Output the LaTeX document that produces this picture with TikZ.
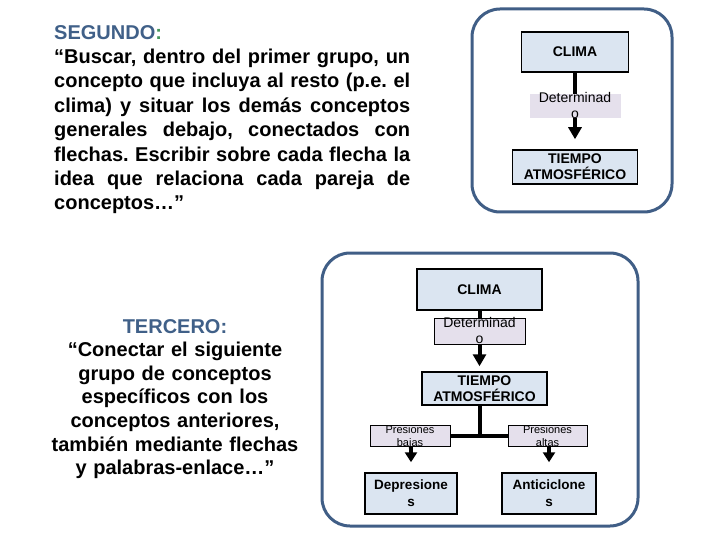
\documentclass[tikz,border=0pt]{standalone}
\usepackage{fontspec}
\setmainfont{Liberation Sans}
\usetikzlibrary{arrows.meta}
\definecolor{framecol}{RGB}{64,94,134}
\definecolor{boxfill}{RGB}{219,229,241}
\definecolor{lblfill}{RGB}{229,224,236}
\definecolor{titlecol}{RGB}{64,96,136}
\definecolor{colongreen}{RGB}{70,150,90}
\newcommand{\twoline}[2]{\smash{\raisebox{-5pt}{\begin{tabular}{@{}c@{}}#1\\#2\end{tabular}}}}
\frenchspacing

\begin{document}
\begin{tikzpicture}[x=1pt,y=-1pt,
frame/.style={draw=framecol,line width=3pt,rounded corners=28pt},
concept/.style={draw,line width=1.5pt,fill=boxfill,align=center,inner sep=0pt,font=\fontsize{14}{16}\selectfont\bfseries},
link/.style={fill=lblfill,inner sep=0pt,font=\fontsize{14}{16}\selectfont},
smalllink/.style={link,draw,line width=1pt,font=\fontsize{11}{13}\selectfont},
conn/.style={line width=4pt},
arr/.style={conn,-{Triangle[width=13pt,length=12pt]}},
longtext/.style={inner sep=0pt,font=\fontsize{20}{24.4}\selectfont\bfseries}]
\useasboundingbox (0,0) rectangle (720,540);

% instrucciones
\node[longtext,anchor=north west,text width=356pt,align=justify] (segundo) at (54,25) {{\color{titlecol}SEGUNDO\color{colongreen}:}\par
“Buscar, dentro del primer grupo, un\linebreak
concepto que incluya al resto (p.e. el\linebreak
clima) y situar los demás conceptos\linebreak
generales debajo, conectados con\linebreak
flechas. Escribir sobre cada flecha la\linebreak
idea que relaciona cada pareja de\linebreak
conceptos…”};
\node[longtext,anchor=north,text width=300pt,align=center,font=\fontsize{20}{23.6}\selectfont\bfseries] (tercero) at (175,319) {{\color{titlecol}TERCERO:}\\“Conectar el siguiente\\grupo de conceptos\\específicos con los\\conceptos anteriores,\\también mediante flechas\\y palabras-enlace…”};

% mapa general
\node[frame,minimum width=200pt,minimum height=203pt] (frameA) at (572,110.5) {};
\node[concept,minimum width=107pt,minimum height=40pt] (climaA) at (575,52) {CLIMA};
\node[concept,minimum width=125pt,minimum height=34pt] (tiempoA) at (575,167) {TIEMPO\\ATMOSFÉRICO};
\draw[arr,shorten >=10pt] (climaA) -- (tiempoA);
\node[link,minimum width=91pt,minimum height=24pt] (detA) at (575,106) {\twoline{Determinad}{o}};

% mapa especifico
\node[frame,minimum width=316pt,minimum height=273pt] (frameB) at (480,389.5) {};
\node[concept,minimum width=125pt,minimum height=41pt] (climaB) at (479.5,289.5) {CLIMA};
\node[concept,minimum width=125pt,minimum height=33pt] (tiempoB) at (484.5,388.5) {TIEMPO\\ATMOSFÉRICO};
\draw[arr,shorten >=5pt] (climaB) -- (climaB.south |- tiempoB.north);
\node[link,draw,line width=1pt,minimum width=91pt,minimum height=26pt] (detB) at (479.5,331) {\twoline{Determinad}{o}};
\node[smalllink,minimum width=80pt,minimum height=21pt] (bajas) at (410,435.5) {\twoline{Presiones}{bajas}};
\node[smalllink,minimum width=79pt,minimum height=21pt] (altas) at (547.5,435.5) {\twoline{Presiones}{altas}};
\node[concept,minimum width=92pt,minimum height=41pt,font=\fontsize{13.5}{17}\selectfont\bfseries] (depres) at (411,493.5) {Depresione\\s};
\node[concept,minimum width=94pt,minimum height=41pt,font=\fontsize{13.5}{17}\selectfont\bfseries] (antic) at (549,493.5) {Anticiclone\\s};
\draw[conn] (climaB.south |- tiempoB.south) -- (climaB.south |- bajas.east);
\draw[conn] (bajas.east) -- (altas.west);
\draw[arr,-{Triangle[width=12pt,length=10pt]},shorten >=10pt] (depres.north |- bajas.south) -- (depres.north);
\draw[arr,-{Triangle[width=12pt,length=10pt]},shorten >=10pt] (antic.north |- altas.south) -- (antic.north);
\end{tikzpicture}
\end{document}
